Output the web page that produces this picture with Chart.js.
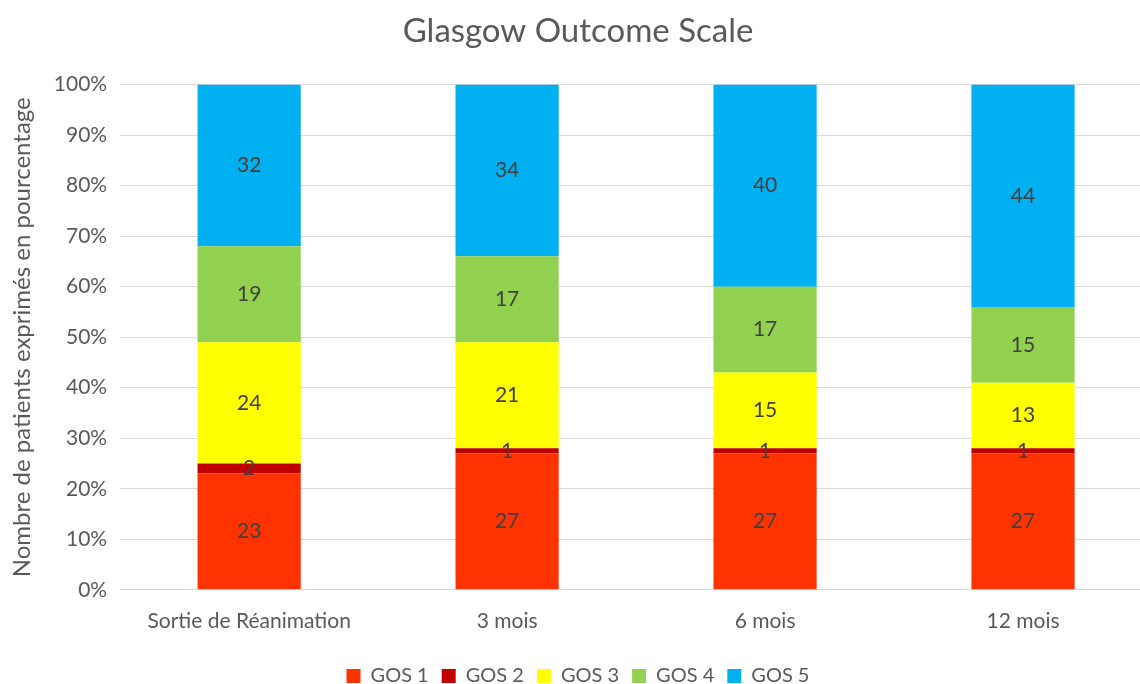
<!DOCTYPE html>
<html>
<head>
<meta charset="utf-8">
<script src="https://cdn.jsdelivr.net/npm/chart.js@4/dist/chart.umd.min.js"></script>
<style>
  html, body { margin: 0; padding: 0; background: #fff; overflow: hidden; }
  #wrap { width: 1152px; height: 696px; position: relative; }
</style>
</head>
<body>
<div id="wrap"><canvas id="gos"></canvas></div>
<script>
const categories = ['Sortie de Réanimation', '3 mois', '6 mois', '12 mois'];
const gos1 = [23, 27, 27, 27];
const gos2 = [2, 1, 1, 1];
const gos3 = [24, 21, 15, 13];
const gos4 = [19, 17, 17, 15];
const gos5 = [32, 34, 40, 44];
const seriesNames = ['GOS 1', 'GOS 2', 'GOS 3', 'GOS 4', 'GOS 5'];
const seriesColors = ['#FF3300', '#C00000', '#FFFF00', '#92D050', '#00B0F0'];
const yTicks = [0, 10, 20, 30, 40, 50, 60, 70, 80, 90, 100];

const fontFamily = 'Lato, "Open Sans", sans-serif';

// draws the value in the middle of each bar segment
const barValues = {
    id: 'barValues',
    afterDatasetsDraw(chart) {
        const ctx = chart.ctx;
        ctx.save();
        ctx.font = '21px ' + fontFamily;
        ctx.fillStyle = '#404040';
        ctx.textAlign = 'center';
        ctx.textBaseline = 'middle';
        chart.data.datasets.forEach((ds, i) => {
            chart.getDatasetMeta(i).data.forEach((bar, j) => {
                const mid = (bar.y + bar.base) / 2;
                ctx.fillText(ds.data[j], bar.x, mid);
            });
        });
        ctx.restore();
    }
};

const ctx = document.getElementById('gos').getContext('2d');
const chart = new Chart(ctx, {
    type: 'bar',
    data: {
        labels: categories,
        datasets: [gos1, gos2, gos3, gos4, gos5].map((d, i) => ({
            label: seriesNames[i],
            data: d,
            backgroundColor: seriesColors[i],
            borderWidth: 0,
            categoryPercentage: 1,
            barPercentage: 0.4
        }))
    },
    options: {
        responsive: true,
        maintainAspectRatio: false,
        animation: false,
        layout: { padding: { left: 4, right: 0, top: 0, bottom: 0 } },
        plugins: {
            title: {
                display: true,
                text: 'Glasgow Outcome Scale',
                color: '#595959',
                font: { family: fontFamily, size: 33, weight: 'normal' },
                padding: { top: 12, bottom: 33 }
            },
            legend: {
                position: 'bottom',
                labels: {
                    color: '#595959',
                    font: { family: fontFamily, size: 20 },
                    boxWidth: 14,
                    boxHeight: 14,
                    padding: 13
                }
            },
            tooltip: { enabled: false }
        },
        scales: {
            x: {
                stacked: true,
                grid: { display: false, drawTicks: false },
                border: { color: '#D9D9D9' },
                ticks: {
                    color: '#595959',
                    font: { family: fontFamily, size: 21 },
                    padding: 19
                }
            },
            y: {
                stacked: true,
                min: 0,
                max: 100,
                afterBuildTicks(axis) {
                    axis.ticks = yTicks.map(v => ({ value: v }));
                },
                grid: { color: '#D9D9D9', drawTicks: false },
                border: { display: false },
                ticks: {
                    color: '#595959',
                    font: { family: fontFamily, size: 21 },
                    padding: 13,
                    callback: v => v + '%'
                },
                title: {
                    display: true,
                    text: 'Nombre de patients exprimés en pourcentage',
                    color: '#595959',
                    font: { family: fontFamily, size: 24 },
                    padding: { top: 4, bottom: 4 }
                }
            }
        }
    },
    plugins: [barValues]
});
</script>
</body>
</html>
